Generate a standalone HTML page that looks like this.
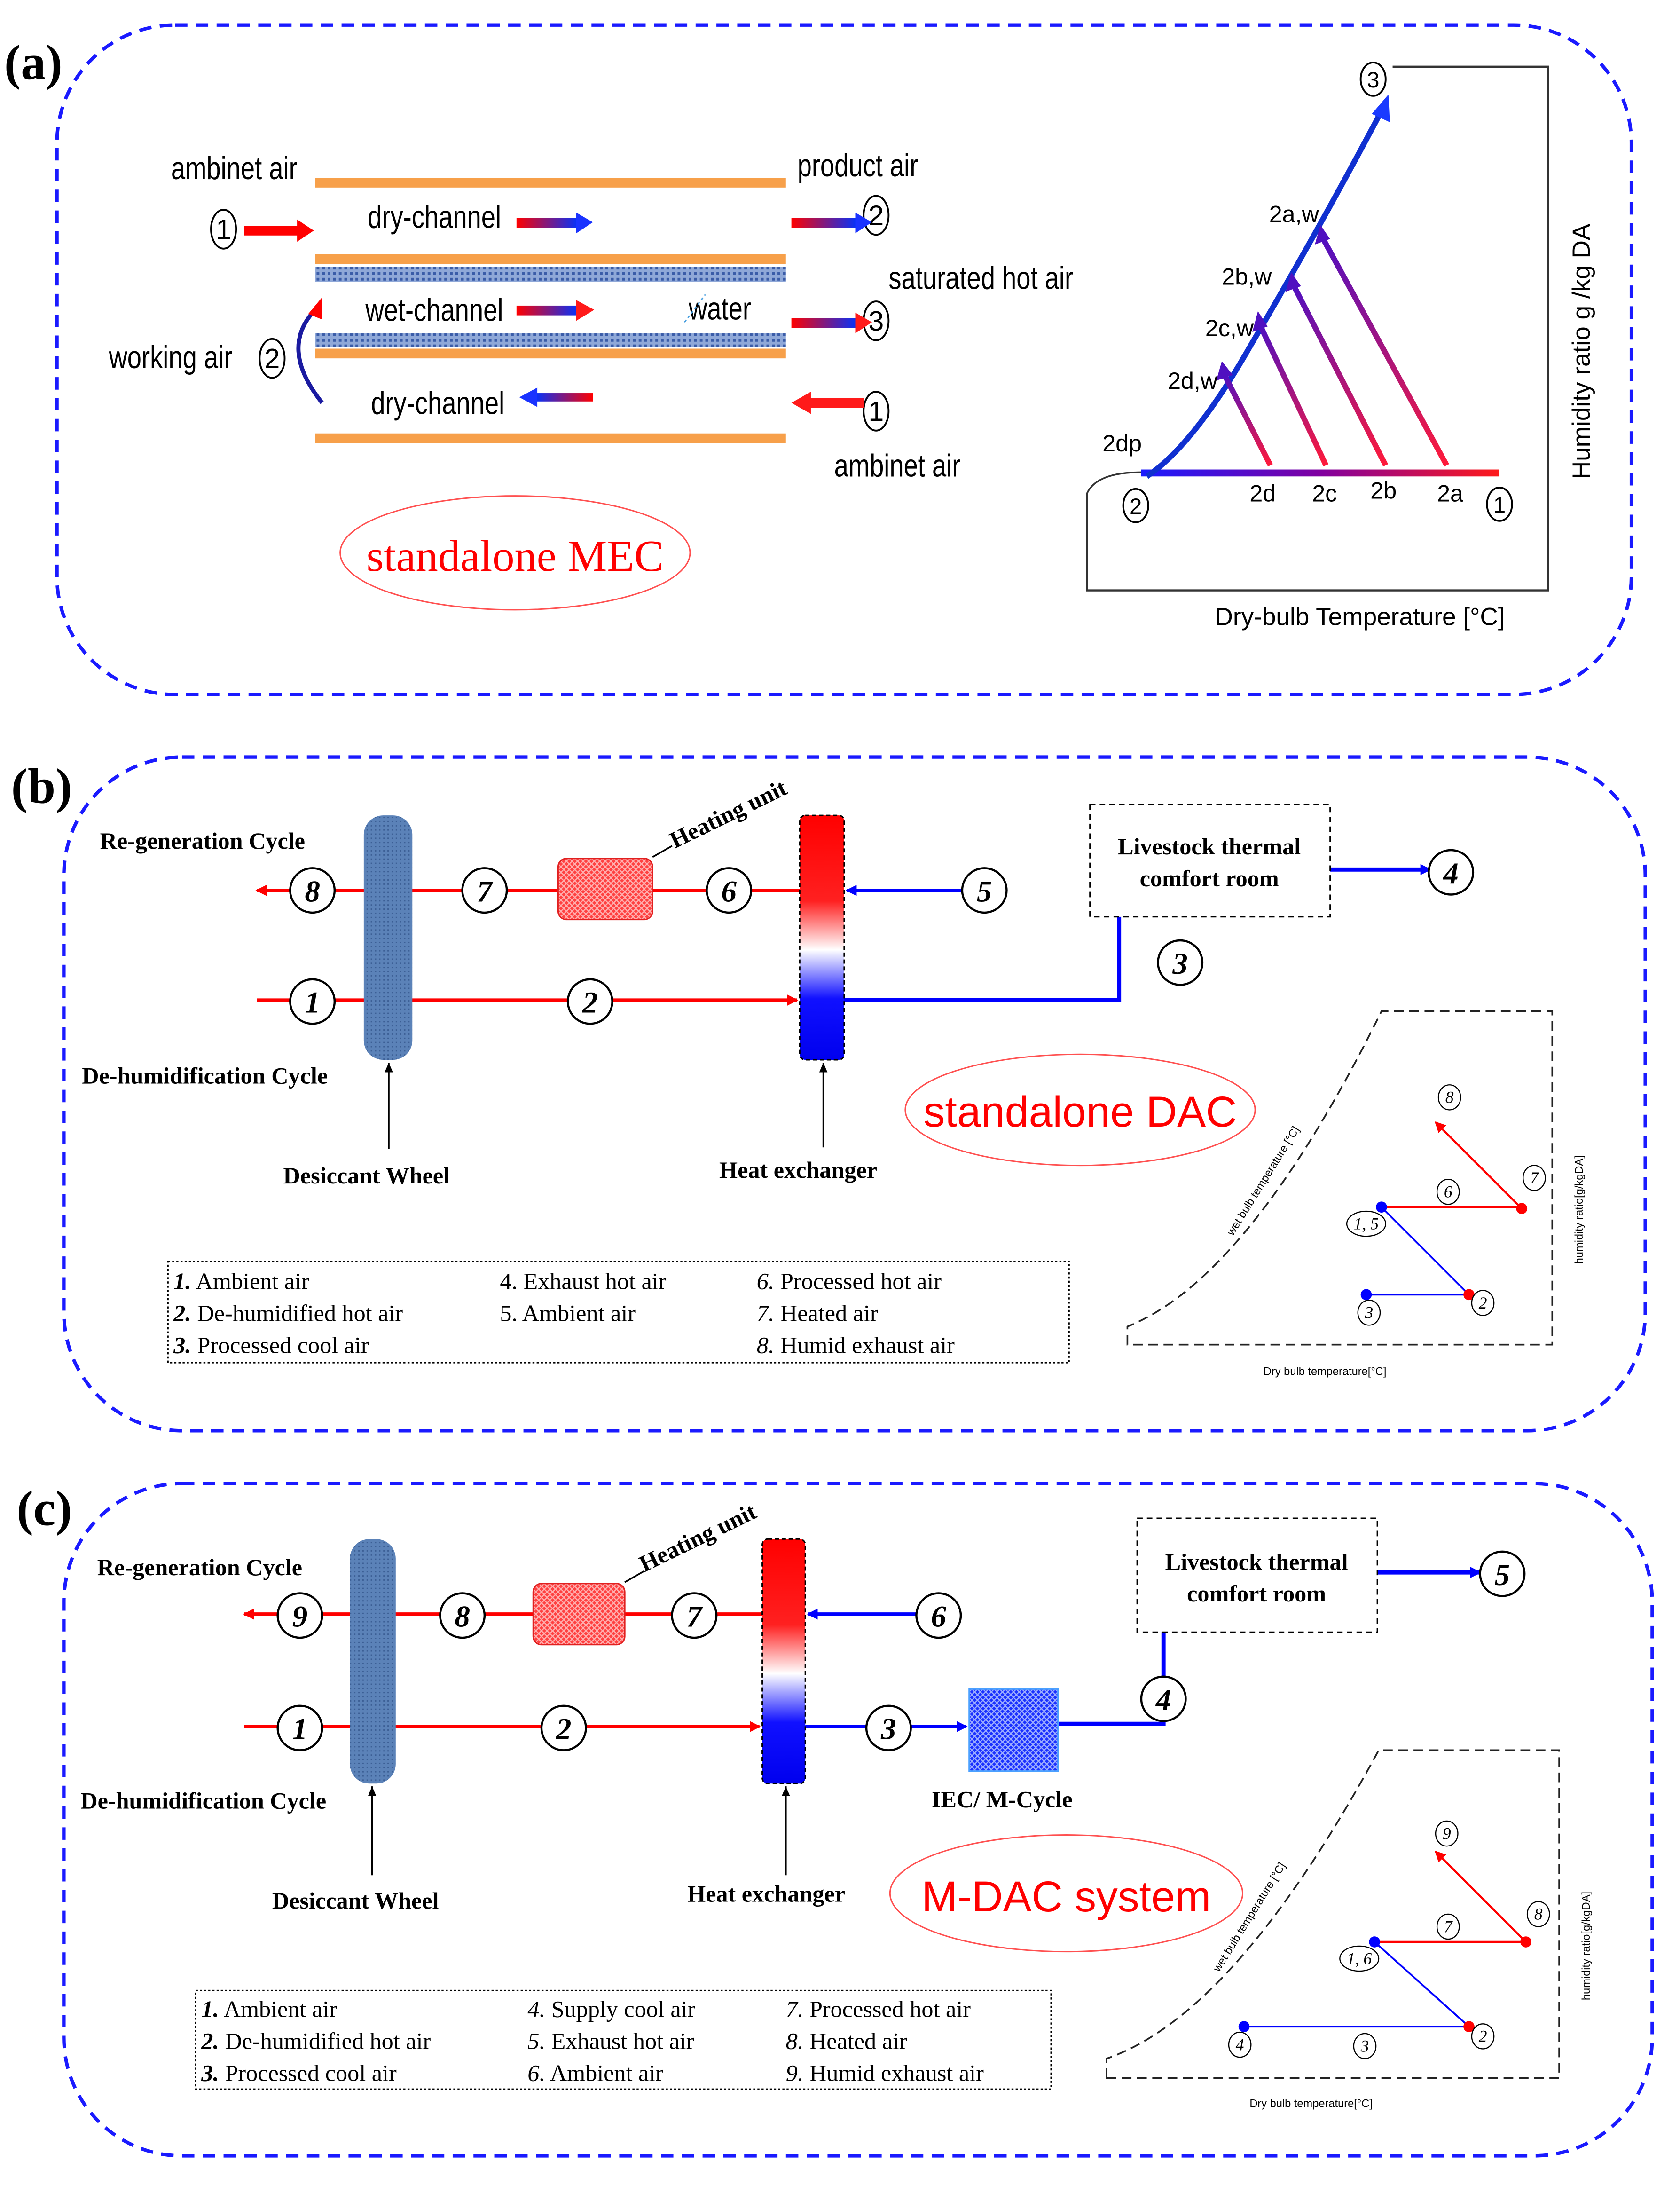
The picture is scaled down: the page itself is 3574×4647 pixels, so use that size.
<!DOCTYPE html>
<html><head><meta charset="utf-8"><style>
html,body{margin:0;padding:0;background:#fff;}
svg{display:block;}
.s{font-family:"Liberation Serif",serif;}
.b{font-family:"Liberation Sans",sans-serif;}
.n{font-family:"Liberation Sans Narrow","Liberation Sans",sans-serif;}
</style></head><body>
<svg width="3574" height="4647" viewBox="0 0 1210 1573" preserveAspectRatio="none" xmlns="http://www.w3.org/2000/svg">
<defs>
<linearGradient id="rb" x1="0" x2="1"><stop offset="0" stop-color="#ff0000"/><stop offset="1" stop-color="#0033ff"/></linearGradient>
<linearGradient id="br" x1="0" x2="1"><stop offset="0" stop-color="#1a1aff"/><stop offset="0.5" stop-color="#8000a0"/><stop offset="1" stop-color="#ff1a1a"/></linearGradient>
<linearGradient id="pu" x1="0" y1="1" x2="0" y2="0"><stop offset="0" stop-color="#ff1a3a"/><stop offset="1" stop-color="#5010c0"/></linearGradient>
<linearGradient id="hx" x1="0" y1="0" x2="0" y2="1"><stop offset="0" stop-color="#ff0000"/><stop offset="0.35" stop-color="#ff2020"/><stop offset="0.55" stop-color="#ffffff"/><stop offset="0.75" stop-color="#1010ff"/><stop offset="1" stop-color="#0000ee"/></linearGradient>
<pattern id="hatchR" width="4" height="4" patternUnits="userSpaceOnUse"><rect width="4" height="4" fill="#ff4040"/><path d="M0 0L4 4M4 0L0 4" stroke="#ffb0b0" stroke-width="0.8"/></pattern>
<pattern id="hatchB" width="4" height="4" patternUnits="userSpaceOnUse"><rect width="4" height="4" fill="#1a30ff"/><path d="M0 0L4 4M4 0L0 4" stroke="#a0b0ff" stroke-width="0.8"/></pattern>
<pattern id="wheel" width="3" height="3" patternUnits="userSpaceOnUse"><rect width="3" height="3" fill="#5b82b8"/><rect width="1" height="1" fill="#3c5f95"/></pattern>
<pattern id="band" width="4" height="4" patternUnits="userSpaceOnUse"><rect width="4" height="4" fill="#8fa8d8"/><rect width="2" height="2" fill="#3a5ca8"/></pattern>
<marker id="arR" markerWidth="8" markerHeight="8" refX="7" refY="4" orient="auto" markerUnits="userSpaceOnUse"><path d="M0 0L8 4L0 8z" fill="#ff0000"/></marker>
<marker id="arB" markerWidth="8" markerHeight="8" refX="7" refY="4" orient="auto" markerUnits="userSpaceOnUse"><path d="M0 0L8 4L0 8z" fill="#0000ff"/></marker>
<marker id="arK" markerWidth="8" markerHeight="8" refX="7" refY="4" orient="auto" markerUnits="userSpaceOnUse"><path d="M0 1L7 4L0 7z" fill="#000"/></marker>
</defs>
<rect width="1210" height="1573" fill="#fff"/>

<!-- ===== Panel A ===== -->
<rect x="41" y="18" width="1134" height="482" rx="85" fill="none" stroke="#1a1aff" stroke-width="2.5" stroke-dasharray="9 6"/>
<text x="3" y="57" class="s" font-size="36" font-weight="bold">(a)</text>

<rect x="227" y="128" width="339" height="7" fill="#f7a04a"/>
<rect x="227" y="183" width="339" height="7" fill="#f7a04a"/>
<rect x="227" y="192" width="339" height="11" fill="url(#band)"/>
<rect x="227" y="240" width="339" height="10" fill="url(#band)"/>
<rect x="227" y="251" width="339" height="7" fill="#f7a04a"/>
<rect x="227" y="312" width="339" height="7" fill="#f7a04a"/>

<g class="n" font-size="23" transform="scale(0.8,1)">
<text x="154" y="129">ambinet air</text>
<text x="331" y="164">dry-channel</text>
<text x="329" y="231">wet-channel</text>
<text x="620" y="230">water</text>
<text x="334" y="298">dry-channel</text>
<text x="98" y="265">working air</text>
<text x="718" y="127">product air</text>
<text x="800" y="208">saturated hot air</text>
<text x="751" y="343">ambinet air</text>
</g>
<g fill="none" stroke="#000" stroke-width="1.3">
<ellipse cx="161" cy="165" rx="9" ry="14"/><ellipse cx="196" cy="258" rx="9" ry="14"/>
<ellipse cx="631" cy="155" rx="9" ry="14"/><ellipse cx="631" cy="231" rx="9" ry="14"/><ellipse cx="631" cy="296" rx="9" ry="14"/>
</g>
<g class="n" font-size="20" text-anchor="middle">
<text x="161" y="172">1</text><text x="196" y="265">2</text><text x="631" y="162">2</text><text x="631" y="238">3</text><text x="631" y="303">1</text>
</g>
<path d="M176 166H216" stroke="#ff0000" stroke-width="7"/><path d="M214 158L226 166L214 174z" fill="#ff0000"/>
<rect x="372" y="157" width="45" height="7" fill="url(#rb)"/><path d="M415 153L427 160L415 168z" fill="#1a33ff"/>
<rect x="372" y="220" width="45" height="7" fill="url(#rb)"/><path d="M415 216L428 223L415 231z" fill="#ff1a1a"/>
<rect x="570" y="157" width="48" height="7" fill="url(#rb)"/><path d="M616 153L628 160L616 168z" fill="#1a33ff"/>
<rect x="570" y="229" width="48" height="7" fill="url(#rb)"/><path d="M616 225L628 232L616 240z" fill="#ff1a1a"/>
<rect x="385" y="283" width="42" height="6" fill="url(#rb)" transform="rotate(180 406 286)"/><path d="M387 279L374 286L387 293z" fill="#1a33ff"/>
<path d="M622 290H582" stroke="#ff1a1a" stroke-width="7"/><path d="M584 282L570 290L584 298z" fill="#ff1a1a"/>
<path d="M228 222Q200 250 232 290" fill="none" stroke="#1a1aa0" stroke-width="3"/><path d="M222 226L232 214L232 230z" fill="#ff0000"/>
<path d="M493 232L508 212" stroke="#4aa0e0" stroke-width="1" stroke-dasharray="2 2"/>
<ellipse cx="371" cy="398" rx="126" ry="41" fill="none" stroke="#ff5050" stroke-width="1"/>
<text x="371" y="411" text-anchor="middle" class="s" font-size="32" fill="#ff0000">standalone MEC</text>

<!-- chart A -->
<path d="M783 355V425H1115V48H1003" fill="none" stroke="#333" stroke-width="1.5"/>
<path d="M783 355Q790 340 822 340" fill="none" stroke="#333" stroke-width="1.2"/>
<rect x="822" y="338" width="258" height="5" fill="url(#br)"/>
<path d="M826 343Q860 320 900 250Q950 165 996 78" fill="none" stroke="#1030d0" stroke-width="4"/>
<path d="M988 82L1000 68L1001 88z" fill="#1a3aff"/>
<g stroke="url(#pu)" stroke-width="4" fill="none">
<path d="M915 335L882 270"/><path d="M955 335L908 235"/><path d="M998 335L932 206"/><path d="M1042 335L953 172"/>
</g>
<g fill="#5010c0"><path d="M876 274L880 260L888 270z"/><path d="M902 239L906 224L913 235z"/><path d="M926 210L930 196L937 206z"/><path d="M947 176L951 162L958 172z"/></g>
<g class="b" font-size="17">
<text x="914" y="160">2a,w</text><text x="880" y="205">2b,w</text><text x="868" y="242">2c,w</text><text x="841" y="280">2d,w</text>
<text x="794" y="325">2dp</text><text x="900" y="361">2d</text><text x="945" y="361">2c</text><text x="987" y="359">2b</text><text x="1035" y="361">2a</text>
</g>
<g fill="none" stroke="#000" stroke-width="1.3"><ellipse cx="818" cy="364" rx="9" ry="12"/><ellipse cx="1080" cy="363" rx="9" ry="12"/><ellipse cx="989" cy="57" rx="9" ry="12"/></g>
<g class="b" font-size="16" text-anchor="middle"><text x="818" y="370">2</text><text x="1080" y="369">1</text><text x="989" y="63">3</text></g>
<text x="0" y="0" class="n" font-size="18" transform="translate(1145 345) rotate(-90)">Humidity ratio g /kg DA</text>
<text x="875" y="450" class="n" font-size="18">Dry-bulb Temperature [°C]</text>

<!-- ===== Panel B ===== -->
<rect x="46" y="545" width="1139" height="485" rx="85" fill="none" stroke="#1a1aff" stroke-width="2.5" stroke-dasharray="9 6"/>
<text x="8" y="578" class="s" font-size="36" font-weight="bold">(b)</text>

<path d="M576 641H185" stroke="#ff0000" stroke-width="2.5" marker-end="url(#arR)"/>
<path d="M693 641H610" stroke="#0000ff" stroke-width="2.5" marker-end="url(#arB)"/>
<path d="M185 720H574" stroke="#ff0000" stroke-width="2.5" marker-end="url(#arR)"/>
<path d="M608 720H806V660" fill="none" stroke="#0000ff" stroke-width="3"/>
<path d="M958 626H1030" stroke="#0000ff" stroke-width="3" marker-end="url(#arB)"/>
<rect x="402" y="618" width="68" height="44" rx="6" fill="url(#hatchR)" stroke="#e02020"/>
<rect x="262" y="587" width="35" height="176" rx="14" fill="url(#wheel)"/>
<rect x="576" y="587" width="32" height="176" rx="4" fill="url(#hx)" stroke="#000" stroke-dasharray="3 2"/>
<rect x="785" y="579" width="173" height="81" fill="#fff" stroke="#000" stroke-dasharray="4 3"/>
<g class="s" font-size="17" font-weight="bold" text-anchor="middle"><text x="871" y="615">Livestock thermal</text><text x="871" y="638">comfort room</text></g>
<g class="s" font-size="17" font-weight="bold">
<text x="72" y="611">Re-generation Cycle</text><text x="59" y="780">De-humidification Cycle</text>
<text x="204" y="852">Desiccant Wheel</text><text x="518" y="848">Heat exchanger</text>
<text x="0" y="0" transform="translate(486 611) rotate(-26)">Heating unit</text>
</g>
<path d="M470 617L484 609" stroke="#000" stroke-width="1.2"/>
<path d="M280 827V765" stroke="#000" stroke-width="1.2" marker-end="url(#arK)"/>
<path d="M593 826V765" stroke="#000" stroke-width="1.2" marker-end="url(#arK)"/>
<g fill="#fff" stroke="#000" stroke-width="1.5">
<circle cx="225" cy="641" r="16"/><circle cx="349" cy="641" r="16"/><circle cx="525" cy="641" r="16"/><circle cx="709" cy="641" r="16"/>
<circle cx="225" cy="721" r="16"/><circle cx="425" cy="721" r="16"/><circle cx="1045" cy="628" r="16"/><circle cx="850" cy="693" r="16"/>
</g>
<g class="s" font-size="22" font-weight="bold" font-style="italic" text-anchor="middle">
<text x="225" y="649">8</text><text x="349" y="649">7</text><text x="525" y="649">6</text><text x="709" y="649">5</text>
<text x="225" y="729">1</text><text x="425" y="729">2</text><text x="1045" y="636">4</text><text x="850" y="701">3</text>
</g>
<ellipse cx="778" cy="799" rx="126" ry="40" fill="none" stroke="#ff5050" stroke-width="1"/>
<text x="778" y="811" text-anchor="middle" class="b" font-size="31" fill="#ff0000">standalone DAC</text>
<rect x="121" y="908" width="649" height="73" fill="none" stroke="#000" stroke-dasharray="1.5 1.5"/>
<g class="s" font-size="17">
<text x="125" y="928"><tspan font-weight="bold" font-style="italic">1.</tspan> Ambient air</text>
<text x="125" y="951"><tspan font-weight="bold" font-style="italic">2.</tspan> De-humidified hot air</text>
<text x="125" y="974"><tspan font-weight="bold" font-style="italic">3.</tspan> Processed cool air</text>
<text x="360" y="928">4. Exhaust hot air</text><text x="360" y="951">5. Ambient air</text>
<text x="545" y="928"><tspan font-style="italic">6.</tspan> Processed hot air</text>
<text x="545" y="951"><tspan font-style="italic">7.</tspan> Heated air</text>
<text x="545" y="974"><tspan font-style="italic">8.</tspan> Humid exhaust air</text>
</g>
<path d="M812 968V955Q900 920 995 728H1118V968Z" fill="none" stroke="#222" stroke-width="1.2" stroke-dasharray="7 4"/>
<path d="M995 869H1096" stroke="#ff0000" stroke-width="1.5"/>
<path d="M1096 870L1034 808" stroke="#ff0000" stroke-width="1.5" marker-end="url(#arR)"/>
<path d="M995 869L1058 932" stroke="#0000ff" stroke-width="1.3"/>
<path d="M984 932H1058" stroke="#0000ff" stroke-width="1.3"/>
<g><circle cx="995" cy="869" r="4" fill="#0000ff"/><circle cx="1096" cy="870" r="4" fill="#ff0000"/><circle cx="1058" cy="932" r="4" fill="#ff0000"/><circle cx="984" cy="932" r="4" fill="#0000ff"/></g>
<g fill="#fff" stroke="#000" stroke-width="0.8"><ellipse cx="1044" cy="790" rx="8" ry="9"/><ellipse cx="1105" cy="848" rx="8" ry="9"/><ellipse cx="1043" cy="858" rx="8" ry="9"/><ellipse cx="984" cy="881" rx="14" ry="9"/><ellipse cx="986" cy="945" rx="8" ry="9"/><ellipse cx="1068" cy="938" rx="8" ry="9"/></g>
<g class="s" font-size="12" font-style="italic" text-anchor="middle"><text x="1044" y="794">8</text><text x="1105" y="852">7</text><text x="1043" y="862">6</text><text x="984" y="885">1, 5</text><text x="986" y="949">3</text><text x="1068" y="942">2</text></g>
<text x="0" y="0" class="b" font-size="8" transform="translate(888 890) rotate(-58)">wet bulb temperature [°C]</text>
<text x="0" y="0" class="b" font-size="8" transform="translate(1140 910) rotate(-90)">humidity ratio[g/kgDA]</text>
<text x="910" y="990" class="b" font-size="8">Dry bulb temperature[°C]</text>

<!-- ===== Panel C ===== -->
<rect x="46" y="1068" width="1144" height="484" rx="85" fill="none" stroke="#1a1aff" stroke-width="2.5" stroke-dasharray="9 6"/>
<text x="12" y="1098" class="s" font-size="36" font-weight="bold">(c)</text>

<path d="M549 1162H176" stroke="#ff0000" stroke-width="2.5" marker-end="url(#arR)"/>
<path d="M660 1162H582" stroke="#0000ff" stroke-width="2.5" marker-end="url(#arB)"/>
<path d="M176 1243H547" stroke="#ff0000" stroke-width="2.5" marker-end="url(#arR)"/>
<path d="M580 1243H696" stroke="#0000ff" stroke-width="2.5" marker-end="url(#arB)"/>
<path d="M762 1241H838V1162" fill="none" stroke="#0000ff" stroke-width="3"/>
<path d="M992 1132H1066" stroke="#0000ff" stroke-width="3" marker-end="url(#arB)"/>
<rect x="384" y="1140" width="66" height="44" rx="6" fill="url(#hatchR)" stroke="#e02020"/>
<rect x="698" y="1216" width="64" height="59" fill="url(#hatchB)" stroke="#4aa0ff"/>
<rect x="252" y="1108" width="33" height="176" rx="14" fill="url(#wheel)"/>
<rect x="549" y="1108" width="31" height="176" rx="4" fill="url(#hx)" stroke="#000" stroke-dasharray="3 2"/>
<rect x="819" y="1093" width="173" height="82" fill="#fff" stroke="#000" stroke-dasharray="4 3"/>
<g class="s" font-size="17" font-weight="bold" text-anchor="middle"><text x="905" y="1130">Livestock thermal</text><text x="905" y="1153">comfort room</text></g>
<g class="s" font-size="17" font-weight="bold">
<text x="70" y="1134">Re-generation Cycle</text><text x="58" y="1302">De-humidification Cycle</text>
<text x="196" y="1374">Desiccant Wheel</text><text x="495" y="1369">Heat exchanger</text>
<text x="671" y="1301">IEC/ M-Cycle</text>
<text x="0" y="0" transform="translate(464 1132) rotate(-26)">Heating unit</text>
</g>
<rect x="785" y="1283" width="40" height="25" fill="#fff"/>
<path d="M450 1139L464 1131" stroke="#000" stroke-width="1.2"/>
<path d="M268 1350V1286" stroke="#000" stroke-width="1.2" marker-end="url(#arK)"/>
<path d="M566 1350V1286" stroke="#000" stroke-width="1.2" marker-end="url(#arK)"/>
<g fill="#fff" stroke="#000" stroke-width="1.5">
<circle cx="216" cy="1163" r="16"/><circle cx="333" cy="1163" r="16"/><circle cx="500" cy="1163" r="16"/><circle cx="676" cy="1163" r="16"/>
<circle cx="216" cy="1244" r="16"/><circle cx="406" cy="1244" r="16"/><circle cx="640" cy="1244" r="16"/><circle cx="838" cy="1223" r="16"/><circle cx="1082" cy="1133" r="16"/>
</g>
<g class="s" font-size="22" font-weight="bold" font-style="italic" text-anchor="middle">
<text x="216" y="1171">9</text><text x="333" y="1171">8</text><text x="500" y="1171">7</text><text x="676" y="1171">6</text>
<text x="216" y="1252">1</text><text x="406" y="1252">2</text><text x="640" y="1252">3</text><text x="838" y="1231">4</text><text x="1082" y="1141">5</text>
</g>
<ellipse cx="768" cy="1363" rx="127" ry="42" fill="none" stroke="#ff5050" stroke-width="1"/>
<text x="768" y="1376" text-anchor="middle" class="b" font-size="31" fill="#ff0000">M-DAC system</text>
<rect x="141" y="1433" width="616" height="71" fill="none" stroke="#000" stroke-dasharray="1.5 1.5"/>
<g class="s" font-size="17">
<text x="145" y="1452"><tspan font-weight="bold" font-style="italic">1.</tspan> Ambient air</text>
<text x="145" y="1475"><tspan font-weight="bold" font-style="italic">2.</tspan> De-humidified hot air</text>
<text x="145" y="1498"><tspan font-weight="bold" font-style="italic">3.</tspan> Processed cool air</text>
<text x="380" y="1452"><tspan font-style="italic">4.</tspan> Supply cool air</text>
<text x="380" y="1475"><tspan font-style="italic">5.</tspan> Exhaust hot air</text>
<text x="380" y="1498"><tspan font-style="italic">6.</tspan> Ambient air</text>
<text x="566" y="1452"><tspan font-style="italic">7.</tspan> Processed hot air</text>
<text x="566" y="1475"><tspan font-style="italic">8.</tspan> Heated air</text>
<text x="566" y="1498"><tspan font-style="italic">9.</tspan> Humid exhaust air</text>
</g>
<path d="M797 1496V1482Q890 1450 993 1260H1123V1496Z" fill="none" stroke="#222" stroke-width="1.2" stroke-dasharray="7 4"/>
<path d="M990 1398H1099" stroke="#ff0000" stroke-width="1.5"/>
<path d="M1099 1398L1034 1333" stroke="#ff0000" stroke-width="1.5" marker-end="url(#arR)"/>
<path d="M990 1398L1058 1459" stroke="#0000ff" stroke-width="1.3"/>
<path d="M896 1459H1058" stroke="#0000ff" stroke-width="1.3"/>
<g><circle cx="990" cy="1398" r="4" fill="#0000ff"/><circle cx="1099" cy="1398" r="4" fill="#ff0000"/><circle cx="1058" cy="1459" r="4" fill="#ff0000"/><circle cx="896" cy="1459" r="4" fill="#0000ff"/></g>
<g fill="#fff" stroke="#000" stroke-width="0.8"><ellipse cx="1042" cy="1320" rx="8" ry="9"/><ellipse cx="1108" cy="1378" rx="8" ry="9"/><ellipse cx="1043" cy="1387" rx="8" ry="9"/><ellipse cx="979" cy="1410" rx="14" ry="9"/><ellipse cx="1068" cy="1466" rx="8" ry="9"/><ellipse cx="983" cy="1473" rx="8" ry="9"/><ellipse cx="893" cy="1472" rx="8" ry="9"/></g>
<g class="s" font-size="12" font-style="italic" text-anchor="middle"><text x="1042" y="1324">9</text><text x="1108" y="1382">8</text><text x="1043" y="1391">7</text><text x="979" y="1414">1, 6</text><text x="1068" y="1470">2</text><text x="983" y="1477">3</text><text x="893" y="1476">4</text></g>
<text x="0" y="0" class="b" font-size="8" transform="translate(878 1420) rotate(-58)">wet bulb temperature [°C]</text>
<text x="0" y="0" class="b" font-size="8" transform="translate(1145 1440) rotate(-90)">humidity ratio[g/kgDA]</text>
<text x="900" y="1517" class="b" font-size="8">Dry bulb temperature[°C]</text>
</svg>
</body></html>
